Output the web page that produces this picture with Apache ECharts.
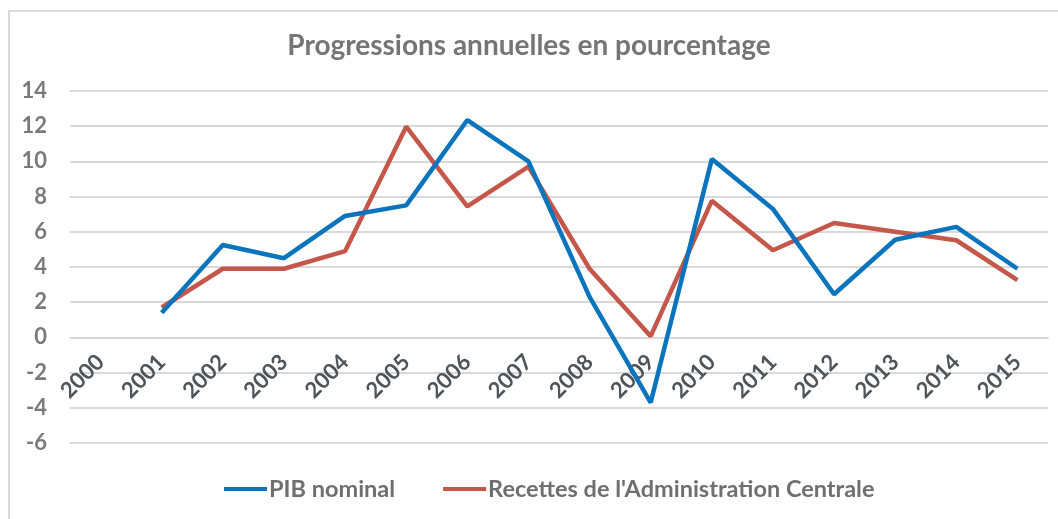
<!DOCTYPE html>
<html>
<head>
<meta charset="utf-8">
<script src="https://cdn.jsdelivr.net/npm/echarts@6/dist/echarts.min.js"></script>
<style>
  html, body { margin: 0; padding: 0; background: #fff; }
  #chart { width: 1058px; height: 519px; }
</style>
</head>
<body>
<div id="chart"></div>
<script>
  let years = ['2000', '2001', '2002', '2003', '2004', '2005', '2006', '2007',
    '2008', '2009', '2010', '2011', '2012', '2013', '2014', '2015'];
  let pib = [null, 1.4, 5.25, 4.5, 6.9, 7.5, 12.35, 10.0, 2.3, -3.7, 10.13, 7.3, 2.45, 5.55, 6.28, 3.9];
  let recettes = [null, 1.7, 3.9, 3.9, 4.9, 11.97, 7.45, 9.7, 3.9, 0.07, 7.76, 4.95, 6.5, 6.0, 5.52, 3.25];
  let seriesNames = ['PIB nominal', "Recettes de l'Administration Centrale"];

  let yMin = -6, yMax = 14;
  let gridTop = 91, gridBottom = 76, chartH = 519;
  // the category axis sits on the zero line
  let zeroOffset = -(0 - yMin) / (yMax - yMin) * (chartH - gridTop - gridBottom);

  let font = 'Lato, "Open Sans", sans-serif';
  let myChart = echarts.init(document.getElementById('chart'));

  myChart.setOption({
    animation: false,
    textStyle: { fontFamily: font },
    title: {
      text: 'Progressions annuelles en pourcentage',
      left: 'center',
      top: 27,
      textStyle: {
        fontFamily: font,
        fontWeight: 'bold',
        fontSize: 28,
        color: '#757575'
      }
    },
    graphic: [{
      type: 'rect',
      silent: true,
      shape: { x: 9, y: 11, width: 1200, height: 700 },
      style: { fill: 'none', stroke: '#d9d9d9', lineWidth: 2 }
    }],
    legend: {
      bottom: 13,
      left: 219,
      itemWidth: 43,
      itemHeight: 4,
      itemGap: 48,
      icon: 'rect',
      textStyle: {
        fontFamily: font,
        fontWeight: 'bold',
        fontSize: 23.5,
        color: '#6f6f6f',
        padding: [0, 0, 0, -3]
      },
      data: seriesNames
    },
    grid: {
      left: 70,
      right: 10,
      top: gridTop,
      bottom: gridBottom,
      containLabel: false
    },
    xAxis: {
      type: 'category',
      data: years,
      boundaryGap: true,
      offset: zeroOffset,
      axisLine: { onZero: false, lineStyle: { color: '#d9d9d9', width: 2 } },
      axisTick: { show: false },
      axisLabel: {
        rotate: 45,
        margin: 21,
        interval: 0,
        fontFamily: font,
        fontWeight: 'bold',
        fontSize: 22,
        color: '#4f5459'
      }
    },
    yAxis: {
      type: 'value',
      min: yMin,
      max: yMax,
      interval: 2,
      axisLine: { show: false },
      axisTick: { show: false },
      splitLine: { lineStyle: { color: '#d9d9d9', width: 2 } },
      axisLabel: {
        margin: 23,
        fontFamily: font,
        fontWeight: 'bold',
        fontSize: 22,
        color: '#7a7a7a'
      }
    },
    series: [{
      name: seriesNames[0],
      type: 'line',
      data: pib,
      symbol: 'none',
      color: '#0a74bc',
      lineStyle: { width: 4.5, color: '#0a74bc' },
      z: 3
    }, {
      name: seriesNames[1],
      type: 'line',
      data: recettes,
      symbol: 'none',
      color: '#c5574a',
      lineStyle: { width: 4.5, color: '#c5574a' },
      z: 2
    }]
  });
</script>
</body>
</html>
